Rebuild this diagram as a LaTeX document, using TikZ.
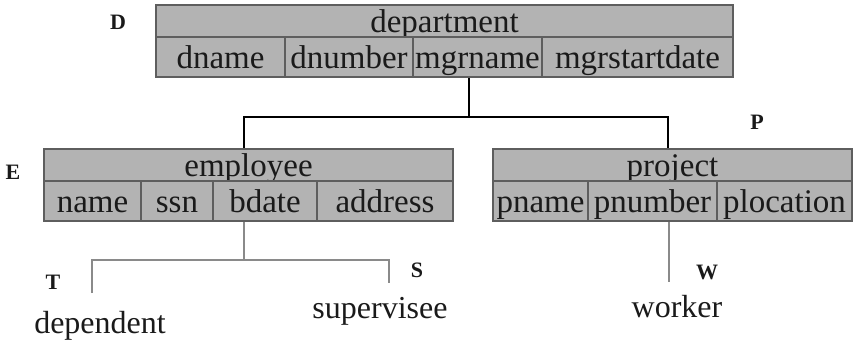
\documentclass[tikz,border=0pt]{standalone}
\usepackage{fontspec}
\setmainfont{Liberation Serif}
\definecolor{cellfill}{HTML}{B3B3B3}
\definecolor{cellline}{HTML}{5E5E5E}
\definecolor{thinline}{HTML}{8A8A8A}
\definecolor{ink}{HTML}{1A1A1A}
\tikzset{
  cell/.style={draw=cellline, line width=0.9pt, fill=cellfill, inner sep=0pt,
    text=ink, font=\fontsize{16.5}{18}\selectfont,
    text height=12.5pt, text depth=0.5pt},
  headrow/.style={cell, minimum height=16pt},
  fieldrow/.style={cell, minimum height=20pt},
  tag/.style={font=\fontsize{11}{13}\selectfont\bfseries, text=ink, inner sep=0pt},
  leafname/.style={font=\fontsize{16}{18}\selectfont, text=ink, inner sep=0pt, anchor=base},
  trunk/.style={draw=black, line width=1.4pt},
  branch/.style={draw=thinline, line width=0.8pt}
}
\begin{document}
\begin{tikzpicture}[x=0.5pt,y=-0.5pt]
\useasboundingbox (0,0) rectangle (854,341);

% department
\node[headrow, minimum width=288.5pt] (dept) at (444.5,21) {department};
\node[fieldrow, minimum width=64.5pt] (dname) at (220.5,57) {dname};
\node[fieldrow, minimum width=64pt]   (dnumber) at (349,57) {dnumber};
\node[fieldrow, minimum width=64.5pt] (mgrname) at (477.5,57) {mgrname};
\node[fieldrow, minimum width=95.5pt] (mgrstart) at (637.5,57) {mgrstartdate};
\node[tag] (tagD) at (118,22) {D};

% employee
\node[headrow, minimum width=204.5pt] (emp) at (248.5,165) {employee};
\node[fieldrow, minimum width=48.5pt] (ename) at (92.5,201) {name};
\node[fieldrow, minimum width=36pt]   (essn) at (177,201) {ssn};
\node[fieldrow, minimum width=52pt]   (ebdate) at (265,201) {bdate};
\node[fieldrow, minimum width=68pt]   (eaddr) at (385,201) {address};
\node[tag] (tagE) at (13,172) {E};

% project
\node[headrow, minimum width=179.5pt] (proj) at (672.5,165) {project};
\node[fieldrow, minimum width=47.5pt] (pname) at (540.5,201) {pname};
\node[fieldrow, minimum width=64.5pt] (pnumber) at (652.5,201) {pnumber};
\node[fieldrow, minimum width=67.5pt] (ploc) at (784.5,201) {plocation};
\node[tag] (tagP) at (757,122) {P};

% leaf entities
\node[leafname] (dependent) at (100,333) {dependent};
\node[leafname] (supervisee) at (380,318) {supervisee};
\node[leafname] (worker) at (677,317) {worker};
\node[tag] (tagT) at (53,282) {T};
\node[tag] (tagS) at (417,270) {S};
\node[tag] (tagW) at (707,272) {W};

% connection points
\coordinate (dtap) at ([xshift=-4.25pt]mgrname.south);
\coordinate (hub) at (469,117);
\coordinate (etap) at ([xshift=-2.25pt]emp.north);
\coordinate (ptap) at ([xshift=-2.25pt]proj.north);
\coordinate (btap) at ([xshift=-10.5pt]ebdate.south);
\coordinate (bhub) at (244,260);
\coordinate (tend) at (92,293);
\coordinate (send) at (389,283);
\coordinate (wtap) at ([xshift=8.25pt]pnumber.south);
\coordinate (wend) at (669,282);

% department hierarchy
\draw[trunk] (dtap) -- (hub);
\draw[trunk] (etap) |- (hub) -| (ptap);

% employee branches
\draw[branch] (btap) -- (bhub);
\draw[branch] (tend) |- (bhub) -| (send);

% project branch
\draw[branch] (wtap) -- (wend);
\end{tikzpicture}
\end{document}
